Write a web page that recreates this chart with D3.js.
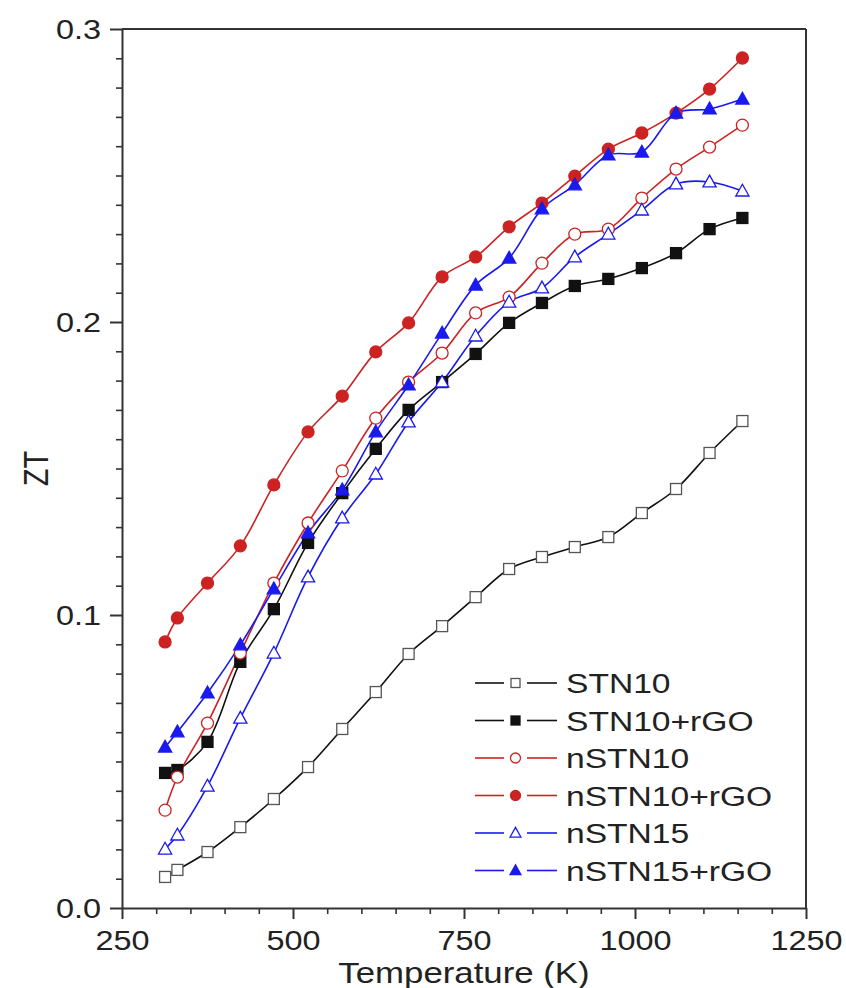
<!DOCTYPE html>
<html>
<head>
<meta charset="utf-8">
<script src="https://cdn.jsdelivr.net/npm/d3@7"></script>
<style>
  html, body { margin: 0; padding: 0; background: #fff; }
  svg { display: block; }
  text { font-family: "Liberation Sans", Arial, sans-serif; fill: #222; }
</style>
</head>
<body>
<svg id="chart" width="846" height="988"></svg>
<script>
// ---- data ----
const temperatures = [313, 331, 375, 423, 472, 522, 572, 621, 669, 718, 767, 816, 864, 912, 961, 1010, 1060, 1109, 1157];
const seriesNames = ["STN10", "STN10+rGO", "nSTN10", "nSTN10+rGO", "nSTN15", "nSTN15+rGO"];
const STN10      = [0.0106, 0.0130, 0.0191, 0.0276, 0.0372, 0.0481, 0.0611, 0.0737, 0.0867, 0.0962, 0.1061, 0.1157, 0.1198, 0.1232, 0.1266, 0.1348, 0.1430, 0.1553, 0.1662];
const STN10_rGO  = [0.0461, 0.0471, 0.0567, 0.0840, 0.1020, 0.1246, 0.1416, 0.1567, 0.1700, 0.1795, 0.1891, 0.1997, 0.2065, 0.2123, 0.2147, 0.2184, 0.2235, 0.2317, 0.2355];
const nSTN10     = [0.0334, 0.0447, 0.0631, 0.0870, 0.1109, 0.1314, 0.1492, 0.1672, 0.1795, 0.1894, 0.2031, 0.2085, 0.2201, 0.2300, 0.2317, 0.2423, 0.2522, 0.2597, 0.2672];
const nSTN10_rGO = [0.0908, 0.0990, 0.1109, 0.1236, 0.1444, 0.1625, 0.1747, 0.1898, 0.1997, 0.2154, 0.2222, 0.2325, 0.2406, 0.2498, 0.2590, 0.2645, 0.2713, 0.2795, 0.2901];
const nSTN15     = [0.0201, 0.0249, 0.0416, 0.0648, 0.0870, 0.1130, 0.1331, 0.1481, 0.1659, 0.1795, 0.1952, 0.2068, 0.2116, 0.2222, 0.2300, 0.2382, 0.2471, 0.2478, 0.2447];
const nSTN15_rGO = [0.0549, 0.0601, 0.0734, 0.0898, 0.1089, 0.1280, 0.1427, 0.1625, 0.1785, 0.1962, 0.2126, 0.2218, 0.2386, 0.2468, 0.2570, 0.2580, 0.2713, 0.2727, 0.2761];
const xTicks = [250, 500, 750, 1000, 1250];
const yTicks = [0.0, 0.1, 0.2, 0.3];
const xLabel = "Temperature (K)";
const yLabel = "ZT";

// ---- styling ----
const styles = [
  { color: "#111111", shape: "square",   filled: false },
  { color: "#111111", shape: "square",   filled: true  },
  { color: "#cc2222", shape: "circle",   filled: false },
  { color: "#cc2222", shape: "circle",   filled: true  },
  { color: "#1a1aee", shape: "triangle", filled: false },
  { color: "#1a1aee", shape: "triangle", filled: true  }
];
const allValues = [STN10, STN10_rGO, nSTN10, nSTN10_rGO, nSTN15, nSTN15_rGO];
const series = seriesNames.map((name, i) => ({
  name, ...styles[i],
  points: temperatures.map((t, j) => ({ t, v: allValues[i][j] }))
}));

const SX = 1.2; // horizontal text stretch of the reference image

const svg = d3.select("#chart");
const m = { left: 122, right: 40, top: 29, bottom: 80 };
const W = 846, H = 988;
const x = d3.scaleLinear().domain([250, 1250]).range([m.left, W - m.right]);
const y = d3.scaleLinear().domain([0, 0.3]).range([H - m.bottom, m.top]);

// minor ticks
const xMinor = d3.range(250, 1251, 50).filter(v => !xTicks.includes(v));
const yMinor = d3.range(0, 31, 1).map(v => v / 100).filter(v => Math.round(v * 100) % 10 !== 0);

svg.append("g")
  .attr("transform", `translate(0,${y(0)})`)
  .call(d3.axisBottom(x).tickValues(xMinor).tickSize(6).tickFormat(""))
  .call(g => g.select(".domain").remove())
  .selectAll("line").attr("stroke", "#333").attr("stroke-width", 1.6);
svg.append("g")
  .attr("transform", `translate(${x(250)},0)`)
  .call(d3.axisLeft(y).tickValues(yMinor).tickSize(6).tickFormat(""))
  .call(g => g.select(".domain").remove())
  .selectAll("line").attr("stroke", "#333").attr("stroke-width", 1.6);

const xAxis = svg.append("g")
  .attr("transform", `translate(0,${y(0)})`)
  .call(d3.axisBottom(x).tickValues(xTicks).tickSize(11).tickSizeOuter(0).tickFormat(d3.format("d")));
xAxis.select(".domain").attr("stroke", "#333").attr("stroke-width", 2);
xAxis.selectAll("line").attr("stroke", "#333").attr("stroke-width", 2);
xAxis.selectAll("text")
  .attr("font-size", 27).attr("font-family", "Liberation Sans, Arial, sans-serif")
  .attr("fill", "#222").attr("y", 0).attr("dy", 0)
  .attr("transform", `translate(0,42) scale(${SX},1)`);

const yAxis = svg.append("g")
  .attr("transform", `translate(${x(250)},0)`)
  .call(d3.axisLeft(y).tickValues(yTicks).tickSize(12).tickSizeOuter(0).tickFormat(d3.format(".1f")));
yAxis.select(".domain").attr("stroke", "#333").attr("stroke-width", 2);
yAxis.selectAll("line").attr("stroke", "#333").attr("stroke-width", 2);
yAxis.selectAll("text")
  .attr("font-size", 27).attr("font-family", "Liberation Sans, Arial, sans-serif")
  .attr("fill", "#222").attr("x", 0).attr("dy", "0.35em")
  .attr("transform", `translate(-21,0) scale(${SX},1)`);

// frame top/right
svg.append("line").attr("x1", x(250)).attr("x2", x(1250)).attr("y1", y(0.3)).attr("y2", y(0.3))
  .attr("stroke", "#333").attr("stroke-width", 2);
svg.append("line").attr("x1", x(1250)).attr("x2", x(1250)).attr("y1", y(0.3)).attr("y2", y(0))
  .attr("stroke", "#333").attr("stroke-width", 2);

// axis titles
svg.append("text")
  .attr("transform", `translate(${(x(250) + x(1250)) / 2},983) scale(${SX},1)`)
  .attr("text-anchor", "middle").attr("font-size", 29).text(xLabel);
svg.append("text")
  .attr("transform", `translate(48,${(y(0) + y(0.3)) / 2}) rotate(-90) scale(1,${SX})`)
  .attr("text-anchor", "middle").attr("font-size", 29).text(yLabel);

// markers
function drawMarker(g, s, cx, cy, size) {
  const fill = s.filled ? s.color : "#fff";
  if (s.shape === "square") {
    g.append("rect").attr("x", cx - size / 2).attr("y", cy - size / 2)
      .attr("width", size).attr("height", size)
      .attr("fill", fill).attr("stroke", s.filled ? s.color : "#555").attr("stroke-width", 1.3);
  } else if (s.shape === "circle") {
    g.append("circle").attr("cx", cx).attr("cy", cy).attr("r", size / 2 + 0.5)
      .attr("fill", fill).attr("stroke", s.color).attr("stroke-width", 1.3);
  } else {
    const h = size * 1.0, w = size * 1.2;
    g.append("path")
      .attr("d", `M${cx},${cy - h * 0.62} L${cx + w / 2},${cy + h * 0.45} L${cx - w / 2},${cy + h * 0.45} Z`)
      .attr("fill", fill).attr("stroke", s.color).attr("stroke-width", 1.3);
  }
}

const line = d3.line().x(d => x(d.t)).y(d => y(d.v)).curve(d3.curveCatmullRom.alpha(0.5));

const plot = svg.append("g");
series.forEach(s => {
  plot.append("path").datum(s.points).attr("d", line)
    .attr("fill", "none").attr("stroke", s.color).attr("stroke-width", 1.6);
});
series.forEach(s => {
  const g = plot.append("g");
  s.points.forEach(p => drawMarker(g, s, x(p.t), y(p.v), 11));
});

// legend
const legend = svg.append("g");
series.forEach((s, i) => {
  const ly = 683 + i * 37.5;
  legend.append("line").attr("x1", 475).attr("x2", 504).attr("y1", ly).attr("y2", ly)
    .attr("stroke", s.color).attr("stroke-width", 1.6);
  legend.append("line").attr("x1", 527).attr("x2", 557).attr("y1", ly).attr("y2", ly)
    .attr("stroke", s.color).attr("stroke-width", 1.6);
  drawMarker(legend, s, 515.5, ly, 9);
  legend.append("text")
    .attr("transform", `translate(566,${ly + 10}) scale(${SX},1)`)
    .attr("font-size", 28).text(s.name);
});
</script>
</body>
</html>
